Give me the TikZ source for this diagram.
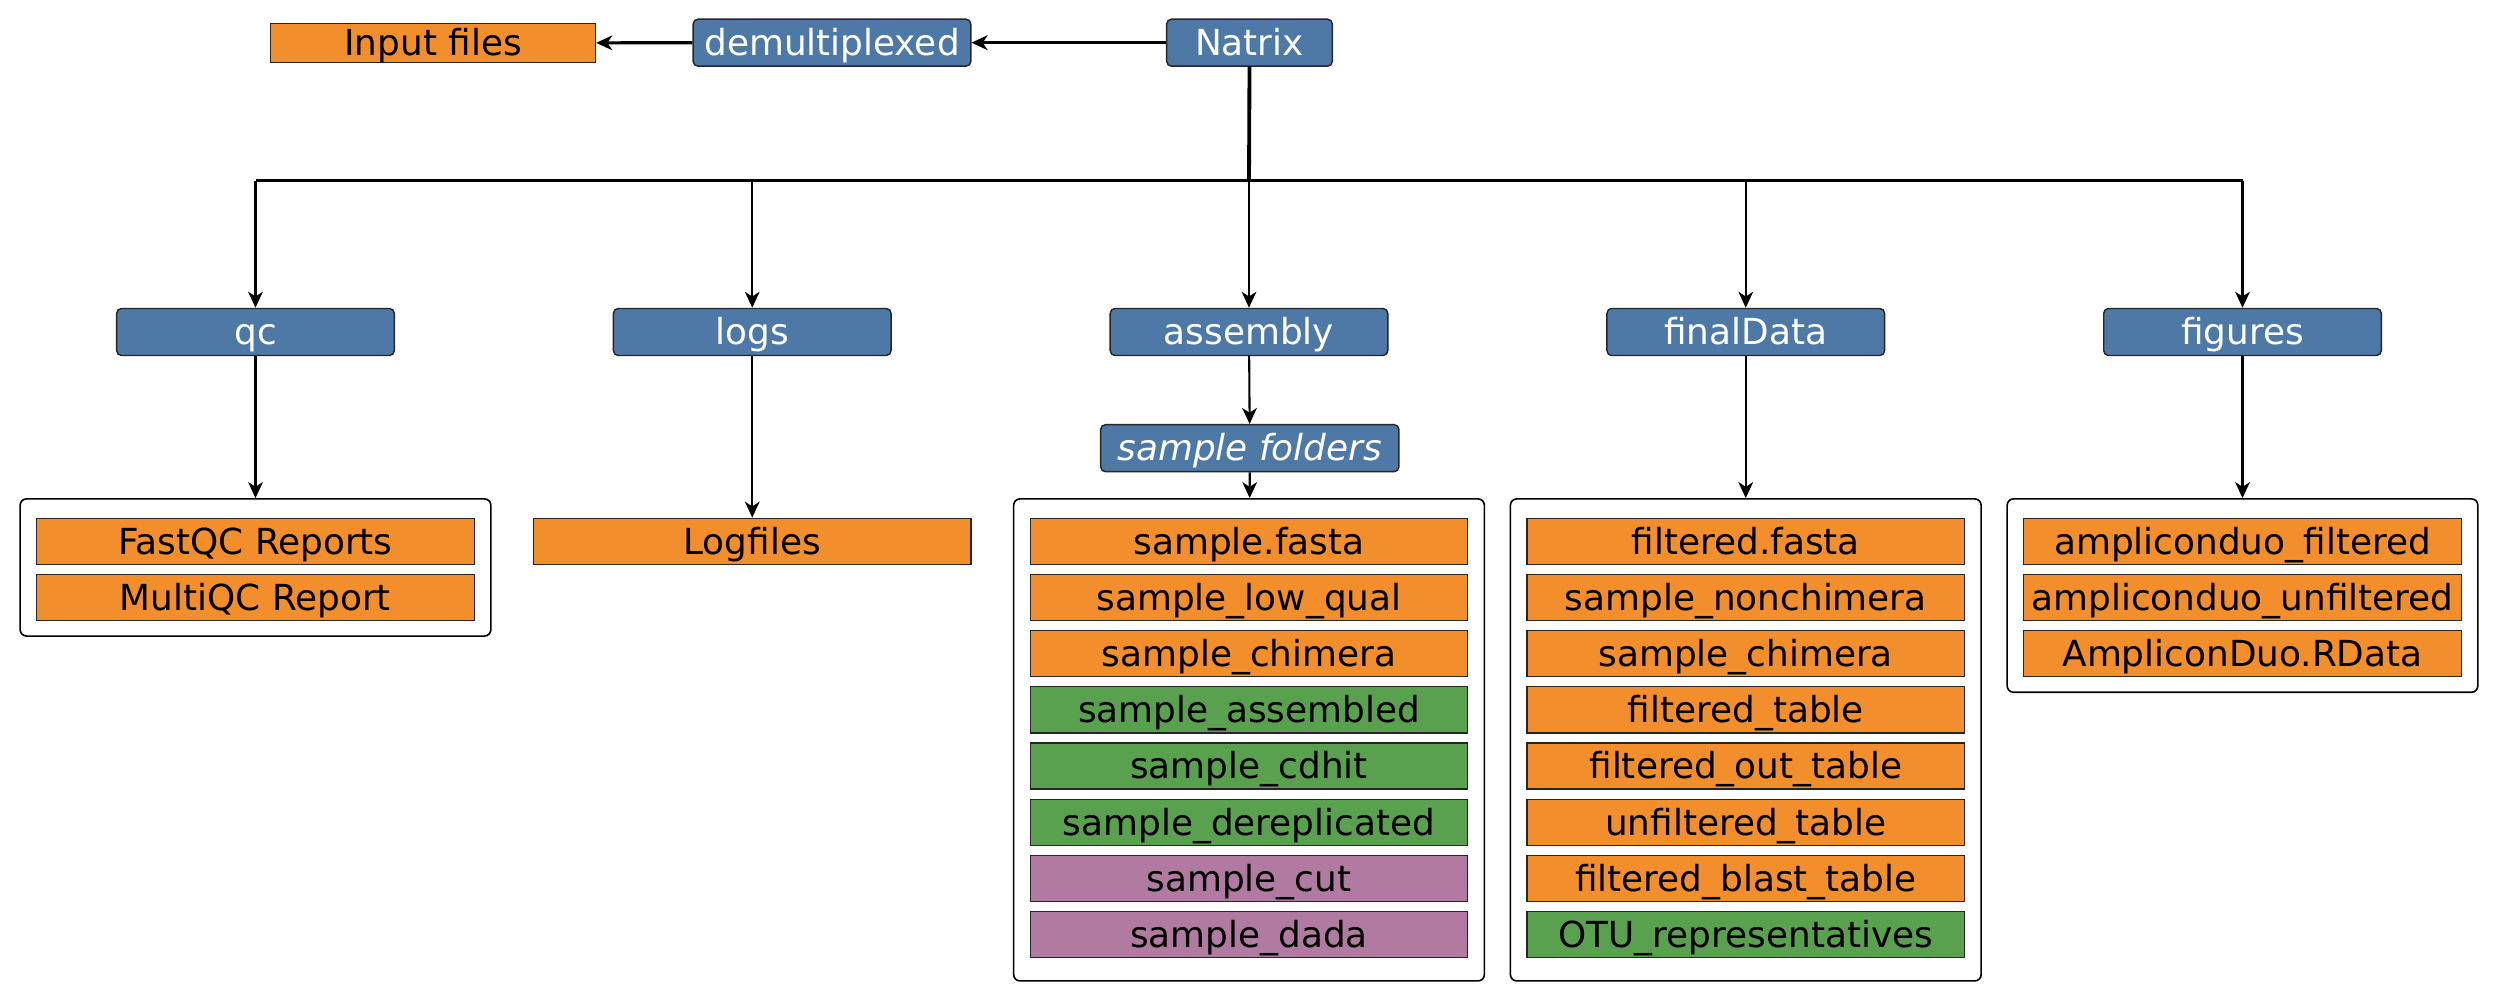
\documentclass[tikz,border=0pt]{standalone}
\usepackage{fontspec}
\setmainfont{DejaVu Sans}
\usetikzlibrary{arrows.meta,fit}
\definecolor{dirblue}{HTML}{4E79A7}
\definecolor{forng}{HTML}{F28E2B}
\definecolor{fgrn}{HTML}{59A14F}
\definecolor{fpur}{HTML}{B07AA1}
\tikzset{
  txt/.style={font=\fontsize{11.2}{13}\selectfont, text height=10pt, text depth=2pt},
  dir/.style={txt, draw=black!85, fill=dirblue, text=white, rounded corners=1.5pt,
    minimum width=86.75pt, minimum height=14.7pt, inner sep=0pt, line width=0.45pt},
  file/.style={txt, draw=black!85, fill=#1, minimum width=136.7pt, minimum height=14.4pt,
    inner sep=0pt, line width=0.4pt},
  grp/.style={draw, rounded corners=2pt, inner xsep=5pt, inner ysep=5.25pt, yshift=0.6pt,
    line width=0.5pt},
  arr/.style={-{Stealth[length=5pt,width=4.6pt,inset=1.5pt]}, line width=0.65pt}
}
\begin{document}
\begin{tikzpicture}[x=0.3125pt,y=-0.3125pt]
\useasboundingbox (0,0) rectangle (2498,1000);
% top row
\node[dir, minimum width=51.75pt] (natrix) at (1249.5,42.7) {Natrix};
\node[dir] (demux) at (832,42.7) {demultiplexed};
\node[file=forng, minimum width=101.6pt, minimum height=11.9pt] (inp) at (433,43) {Input files};
\draw[arr, line width=1pt] (natrix) -- (demux);
\draw[arr, line width=1pt] (demux) -- (inp);
% folders
\node[dir] (qc) at (255.5,332) {qc};
\node[dir] (logs) at (752.25,332) {logs};
\node[dir] (assembly) at (1249,332) {assembly};
\node[dir] (finaldata) at (1745.75,332) {finalData};
\node[dir] (figures) at (2242.5,332) {figures};
\coordinate (bus) at (1249,180.7);
\draw[line width=1.2pt] (natrix.south) -- (bus);
\draw[line width=0.9pt] (qc |- bus) -- (figures |- bus);
\foreach \n in {qc,logs,assembly,finaldata,figures}
\draw[arr] (\n |- bus) -- (\n.north);
% files
\foreach \t/\c [count=\i from 0] in {FastQC Reports/forng, MultiQC Report/forng}
\node[file=\c] (qc\i) at (255.5,{541.3+56.2*\i}) {\t};
\node[file=forng] (logfiles) at (752.25,541.3) {Logfiles};
\node[dir, minimum width=93.2pt] (sfold) at (1249.8,448.2) {\itshape sample folders};
\foreach \t/\c [count=\i from 0] in {sample.fasta/forng, sample\_low\_qual/forng,
  sample\_chimera/forng, sample\_assembled/fgrn, sample\_cdhit/fgrn,
  sample\_dereplicated/fgrn, sample\_cut/fpur, sample\_dada/fpur}
\node[file=\c] (asm\i) at (1249,{541.3+56.2*\i}) {\t};
\foreach \t/\c [count=\i from 0] in {filtered.fasta/forng, sample\_nonchimera/forng,
  sample\_chimera/forng, filtered\_table/forng, filtered\_out\_table/forng,
  unfiltered\_table/forng, filtered\_blast\_table/forng, OTU\_representatives/fgrn}
\node[file=\c] (fin\i) at (1745.75,{541.3+56.2*\i}) {\t};
\foreach \t/\c [count=\i from 0] in {ampliconduo\_filtered/forng,
  ampliconduo\_unfiltered/forng, AmpliconDuo.RData/forng}
\node[file=\c] (fig\i) at (2242.5,{541.3+56.2*\i}) {\t};
% groups
\coordinate (asmend) at ([yshift=-2.4pt]asm7.south);
\coordinate (finend) at ([yshift=-2.4pt]fin7.south);
\node[grp, fit=(qc0)(qc1)] (qcbox) {};
\node[grp, fit=(asm0)(asmend)] (asmbox) {};
\node[grp, fit=(fin0)(finend)] (finbox) {};
\node[grp, fit=(fig0)(fig2)] (figbox) {};
\draw[arr] (qc) -- (qcbox);
\draw[arr] (logs) -- (logfiles);
\draw[arr] (assembly) -- (sfold);
\draw[arr] (sfold) -- (asmbox);
\draw[arr] (finaldata) -- (finbox);
\draw[arr] (figures) -- (figbox);
\end{tikzpicture}
\end{document}
